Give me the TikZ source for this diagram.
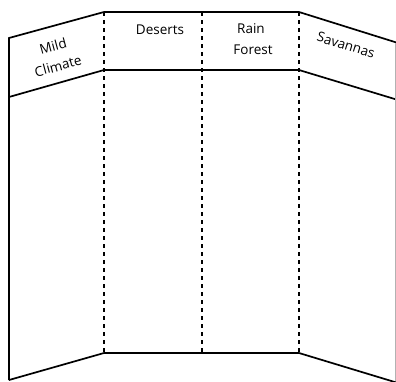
\documentclass[tikz,border=0pt]{standalone}
\usepackage{fontspec}
\setmainfont{Open Sans}
\usetikzlibrary{calc}
\begin{document}
\begin{tikzpicture}[%
    x=1pt, y=-1pt,              % pixel-like units, top-down
    line cap=butt
    ]
% -------------------------------------------------
% Styles for the board
\tikzset{
  edge/.style={draw, line width=1.7pt, line join=miter},
  fold/.style={draw, line width=1.7pt, dash pattern=on 4pt off 4pt},
  rim/.style={draw, gray!60, line width=0.6pt},
  lbl/.style={inner sep=0pt, font={\fontsize{13.5}{20}\selectfont}}
}
\useasboundingbox (0,0) rectangle (396,381);
% -------------------------------------------------
% Corners of the three panels
\coordinate (lt) at (9,38);   \coordinate (lh) at (9,97);   \coordinate (lb) at (9,380);
\coordinate (at) at (104,12); \coordinate (ah) at (104,70); \coordinate (ab) at (104,353);
\coordinate (mt) at (202,12);                               \coordinate (mb) at (202,353);
\coordinate (bt) at (299,12); \coordinate (bh) at (299,70); \coordinate (bb) at (299,353);
\coordinate (rt) at (398,43); \coordinate (rh) at (398,100); \coordinate (rb) at (398,383);

% Outline and header lines
\draw [edge] (lb) -- (lt) -- (at) -- (bt) -- (rt);
\draw [edge] (lh) -- (ah) -- (bh) -- (rh);
\draw [edge] (lb) -- (ab) -- (bb) -- (rb);
\draw [rim] (395.5,43) -- (395.5,381);

% Folds
\draw [fold] (at) -- (ab);
\draw [fold] (mt) -- (mb);
\draw [fold] (bt) -- (bb);

% -------------------------------------------------
% Panel titles
\node [lbl, rotate=15] (mild) at (53,46) {Mild};
\node [lbl, rotate=15] (climate) at (58,66) {Climate};
\node [lbl] (deserts) at (160,30) {Deserts};
\node [lbl] (rain) at (251,29) {Rain};
\node [lbl] (forest) at (253,50) {Forest};
\node [lbl, rotate=-17] (savannas) at (346,45) {Savannas};
\end{tikzpicture}
\end{document}
